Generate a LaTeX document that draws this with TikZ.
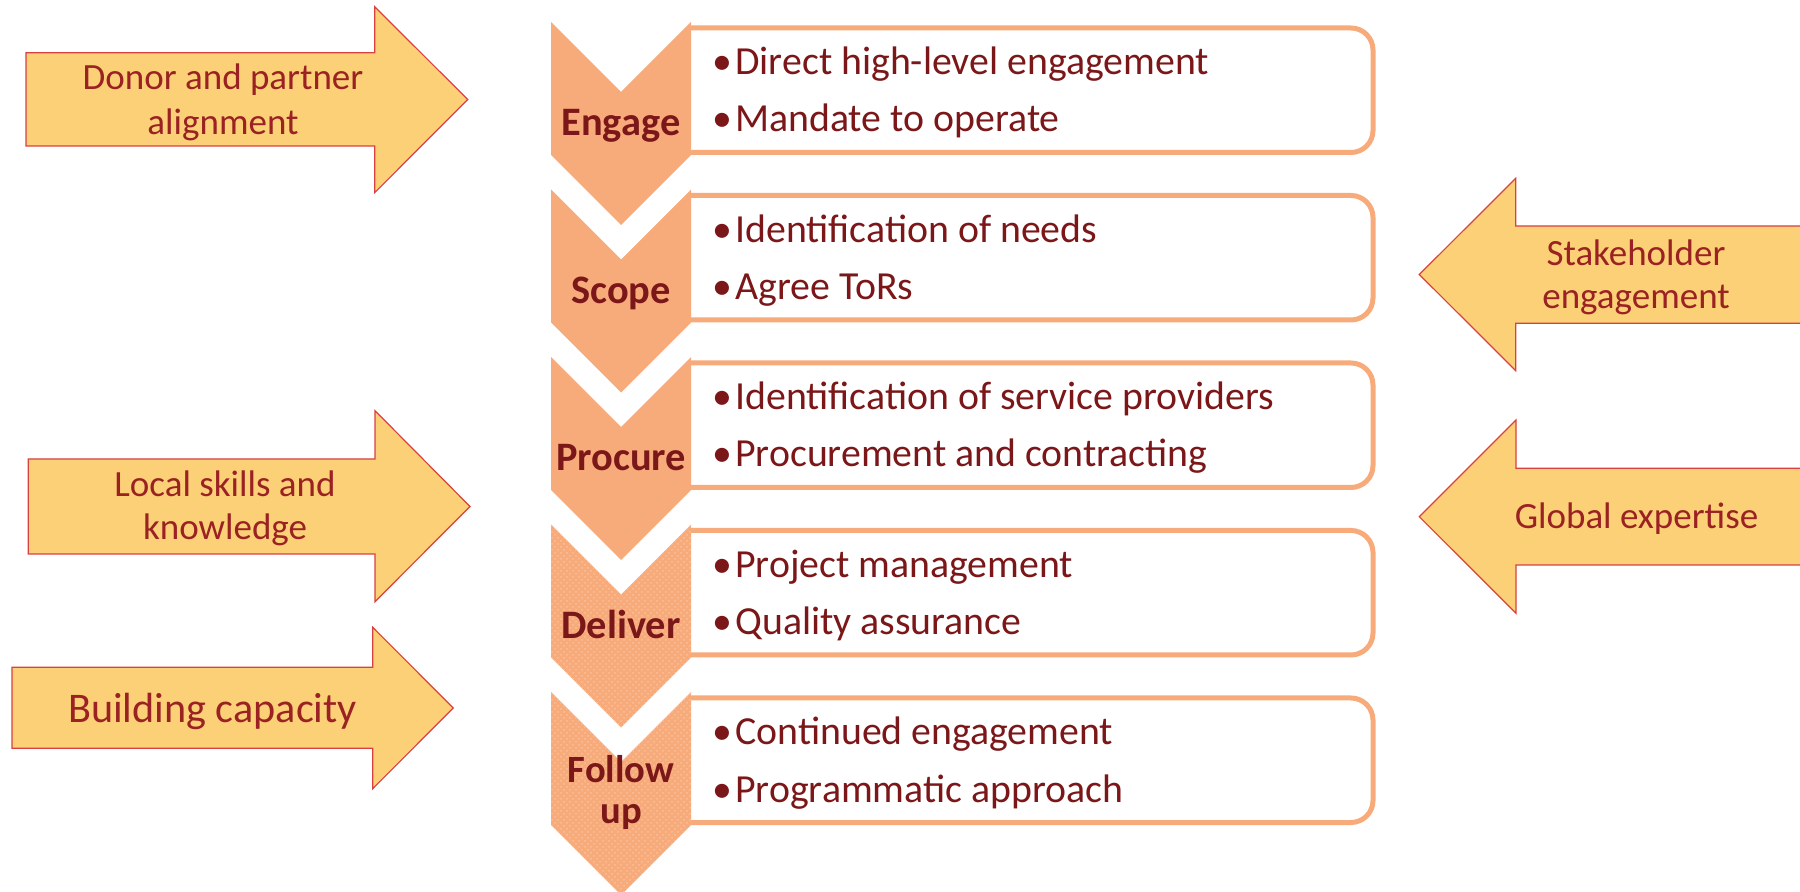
\documentclass[tikz,border=0pt]{standalone}
\usepackage{fontspec}
\setmainfont{Carlito}
\usetikzlibrary{patterns}
\definecolor{peach}{HTML}{F7AB7B}
\definecolor{peachlight}{HTML}{FAC09A}
\definecolor{darkred}{HTML}{7B1719}
\definecolor{arrowfill}{HTML}{FCD077}
\definecolor{arrowline}{HTML}{D8413F}
\definecolor{arrowtext}{HTML}{9A2222}
\tikzset{
  chev/.style={fill=peach},
  chevtex/.style={pattern=crosshatch dots, pattern color=peachlight},
  itembox/.style={draw=peach, line width=2.5pt, rounded corners=11pt},
  lab/.style={inner sep=0pt, text=darkred, font=\fontsize{20.2}{22}\selectfont\bfseries},
  labsmall/.style={inner sep=0pt, text=darkred, font=\fontsize{19.3}{21}\selectfont\bfseries},
  itemtxt/.style={inner sep=0pt, text=darkred, font=\fontsize{19.9}{22}\selectfont},
  bigarrow/.style={fill=arrowfill, draw=arrowline, line width=0.6pt, line join=miter},
  arrtxt/.style={inner sep=0pt, text=arrowtext, font=\fontsize{18.5}{22}\selectfont},
  arrtxtbig/.style={inner sep=0pt, text=arrowtext, font=\fontsize{21.1}{24}\selectfont}
}
\begin{document}
\begin{tikzpicture}[x=0.5pt,y=-0.5pt]
\useasboundingbox (0,0) rectangle (1800,892);
\clip (0,0) rectangle (1800,892);

% chevrons and boxes
\foreach \i in {0,...,4}{
  \pgfmathsetmacro{\T}{22+167.5*\i}
  \fill[chev] (551,\T) -- (621,\T+70) -- (691,\T) -- (691,\T+133) -- (621,\T+203) -- (551,\T+133) -- cycle;
  \draw[itembox] (691,\T+6) -- (1373,\T+6) -- (1373,\T+130.5) -- (691,\T+130.5);
}
\foreach \i in {3,4}{
  \pgfmathsetmacro{\T}{22+167.5*\i}
  \fill[chevtex] (551,\T) -- (621,\T+70) -- (691,\T) -- (691,\T+133) -- (621,\T+203) -- (551,\T+133) -- cycle;
}

% labels and items
\foreach \i/\lab/\a/\b in {0/Engage/Direct high-level engagement/Mandate to operate,
                           1/Scope/Identification of needs/Agree ToRs,
                           2/Procure/Identification of service providers/Procurement and contracting,
                           3/Deliver/Project management/Quality assurance}{
  \pgfmathsetmacro{\T}{22+167.5*\i}
  \node[lab, anchor=base] (lab\i) at (621,\T+114) {\lab};
  \node[itemtxt, anchor=base] (ba\i) at (722,\T+53) {\textbullet};
  \node[itemtxt, anchor=base west] (a\i) at (735,\T+53) {\a};
  \node[itemtxt, anchor=base] (bb\i) at (722,\T+110) {\textbullet};
  \node[itemtxt, anchor=base west] (b\i) at (735,\T+110) {\b};
}
\node[labsmall, anchor=base] (lab4a) at (621,783) {Follow};
\node[labsmall, anchor=base] (lab4b) at (621,823) {up};
\node[itemtxt, anchor=base] (ba4) at (722,745) {\textbullet};
\node[itemtxt, anchor=base west] (a4) at (735,745) {Continued engagement};
\node[itemtxt, anchor=base] (bb4) at (722,802) {\textbullet};
\node[itemtxt, anchor=base west] (b4) at (735,802) {Programmatic approach};

% left arrows
\draw[bigarrow] (26,52.7) -- (374.7,52.7) -- (374.7,6.7) -- (467.7,99.5) -- (374.7,192.7) -- (374.7,146) -- (26,146) -- cycle;
\node[arrtxt, anchor=base] (donor1) at (223,90) {Donor and partner};
\node[arrtxt, anchor=base] (donor2) at (223,135) {alignment};

\draw[bigarrow] (28.3,459) -- (375,459) -- (375,410.7) -- (470,506.5) -- (375,601.7) -- (375,554) -- (28.3,554) -- cycle;
\node[arrtxt, anchor=base] (local1) at (225,496.7) {Local skills and};
\node[arrtxt, anchor=base] (local2) at (225,540) {knowledge};

\draw[bigarrow] (12,667.3) -- (372.7,667.3) -- (372.7,627.3) -- (453.3,708) -- (372.7,788.7) -- (372.7,748.3) -- (12,748.3) -- cycle;
\node[arrtxtbig, anchor=base] (build) at (212.5,722.7) {Building capacity};

% right arrows
\draw[bigarrow] (1870,226) -- (1515.7,226) -- (1515.7,178.3) -- (1419.3,274.5) -- (1515.7,370.7) -- (1515.7,323.3) -- (1870,323.3) -- cycle;
\node[arrtxt, anchor=base] (stake1) at (1636,266) {Stakeholder};
\node[arrtxt, anchor=base] (stake2) at (1636,309) {engagement};

\draw[bigarrow] (1870,468.3) -- (1516,468.3) -- (1516,420) -- (1419.3,516.7) -- (1516,613.3) -- (1516,565) -- (1870,565) -- cycle;
\node[arrtxt, anchor=base] (global) at (1636.5,529) {Global expertise};
\end{tikzpicture}
\end{document}
